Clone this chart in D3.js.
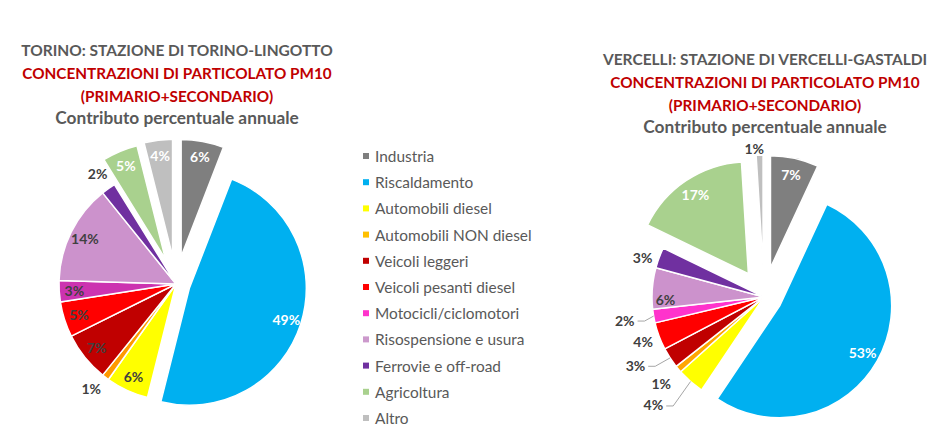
<!DOCTYPE html>
<html>
<head>
<meta charset="utf-8">
<script src="https://cdn.jsdelivr.net/npm/d3@7"></script>
<style>
  html, body { margin: 0; padding: 0; background: #ffffff; }
  svg { display: block; font-family: Lato, "Open Sans", sans-serif; }
</style>
</head>
<body>
<svg id="chart" width="950" height="438"></svg>
<script>
// ---------------- DATA ----------------
const categories = [
  "Industria", "Riscaldamento", "Automobili diesel", "Automobili NON diesel",
  "Veicoli leggeri", "Veicoli pesanti diesel", "Motocicli/ciclomotori",
  "Risospensione e usura", "Ferrovie e off-road", "Agricoltura", "Altro"
];
const torinoValues   = [6, 49, 6, 1, 7, 5, 3, 14, 2, 5, 4];
const vercelliValues = [7, 53, 4, 1, 3, 4, 2, 6, 3, 17, 1];

const torinoTitle   = ["TORINO: STAZIONE DI TORINO-LINGOTTO", "CONCENTRAZIONI DI PARTICOLATO PM10", "(PRIMARIO+SECONDARIO)", "Contributo percentuale annuale"];
const vercelliTitle = ["VERCELLI: STAZIONE DI VERCELLI-GASTALDI", "CONCENTRAZIONI DI PARTICOLATO PM10", "(PRIMARIO+SECONDARIO)", "Contributo percentuale annuale"];

const legendColors   = ["#7F7F7F", "#00B0F0", "#FFFF00", "#FFC000", "#C00000", "#FF0000", "#FF33CC", "#CC99CC", "#7030A0", "#A9D18E", "#BFBFBF"];
const torinoColors   = ["#7F7F7F", "#00B0F0", "#FFFF00", "#FF9900", "#C00000", "#FF0000", "#CC33B0", "#CC92CC", "#7030A0", "#A9D18E", "#BFBFBF"];
const vercelliColors = ["#7F7F7F", "#00B0F0", "#FFFF00", "#FFA500", "#C00000", "#FF0000", "#FF33CC", "#CC92CC", "#7030A0", "#A9D18E", "#BFBFBF"];

// ---------------- LAYOUT / STYLE ----------------
const titleSizes = [15.5, 15.3, 15.3, 17.3];
const titleLineH = 22.8;

const charts = [
  {
    values: torinoValues, colors: torinoColors, title: torinoTitle,
    cx: 176, cy: 284, r: 117, titleX: 177, titleY: 56,
    explode: {0: 28, 1: 14, 9: 27, 10: 28},
    white: [0, 1, 9, 10],
    labels: {3: {k: 1.15, da: 2}, 8: {k: 1.16, da: 0}},
    insideK: 0.87
  },
  {
    values: vercelliValues, colors: vercelliColors, title: vercelliTitle,
    cx: 764, cy: 297, r: 112, titleX: 765, titleY: 65,
    explode: {0: 30, 1: 18, 9: 28, 10: 30},
    white: [0, 1, 9],
    labels: {
      10: {k: 1.06, da: -2.5},
      8: {k: 1.14, da: -2.5},
      7: {k: 0.88, da: -5.7},
      6: {k: 1.26, da: 0.4, leader: true},
      5: {k: 1.15, da: 0.3},
      4: {k: 1.30, da: 5, leader: true},
      3: {k: 1.20, da: 0},
      2: {k: 1.38, da: 4.7, leader: true}
    },
    insideK: 0.85
  }
];

const svg = d3.select("#chart");
const rad = Math.PI / 180;
const pt = (a, d) => [Math.sin(a) * d, -Math.cos(a) * d];

charts.forEach(cfg => {
  const pie = d3.pie().sort(null).value(d => d)(cfg.values);
  const arc = d3.arc().innerRadius(0).outerRadius(cfg.r);
  const g = svg.append("g").attr("transform", `translate(${cfg.cx},${cfg.cy})`);

  // title
  const tg = svg.append("text")
    .attr("x", cfg.titleX).attr("y", cfg.titleY)
    .attr("text-anchor", "middle")
    .attr("font-weight", "bold");
  cfg.title.forEach((line, i) => {
    tg.append("tspan")
      .attr("x", cfg.titleX)
      .attr("dy", i === 0 ? 0 : titleLineH)
      .attr("font-size", titleSizes[i])
      .attr("fill", (i === 1 || i === 2) ? "#C00000" : "#595959")
      .text(line);
  });

  const slices = g.selectAll("g.slice").data(pie).enter().append("g")
    .attr("class", "slice")
    .attr("transform", d => {
      const off = cfg.explode[d.index] || 0;
      const mid = (d.startAngle + d.endAngle) / 2;
      const p = pt(mid, off);
      return `translate(${p[0]},${p[1]})`;
    });

  slices.append("path")
    .attr("d", arc)
    .attr("fill", d => cfg.colors[d.index])
    .attr("stroke", "#ffffff")
    .attr("stroke-width", 1.5)
    .attr("stroke-linejoin", "round");

  slices.each(function(d) {
    const s = d3.select(this);
    const mid = (d.startAngle + d.endAngle) / 2;
    const lab = cfg.labels[d.index];
    const k = lab ? lab.k : cfg.insideK;
    const a = mid + (lab ? lab.da : 0) * rad;
    const p = pt(a, cfg.r * k);
    const isWhite = cfg.white.includes(d.index);
    const t = s.append("text")
      .attr("x", p[0]).attr("y", p[1])
      .attr("text-anchor", "middle")
      .attr("dominant-baseline", "central")
      .attr("font-weight", "bold")
      .attr("font-size", 14)
      .attr("fill", isWhite ? "#ffffff" : "#404040")
      .text(d.data + "%");
    if (lab && lab.leader) {
      const w = t.node().getComputedTextLength();
      const start = pt(mid, cfg.r);
      const endX = p[0] + w / 2 + 3;
      const elbowX = endX + 7;
      s.insert("polyline", "text")
        .attr("points", `${endX},${p[1] + 1} ${elbowX},${p[1] + 1} ${start[0]},${start[1]}`)
        .attr("fill", "none")
        .attr("stroke", "#A6A6A6")
        .attr("stroke-width", 1);
    }
  });
});

// legend
const legend = svg.append("g").attr("transform", "translate(363,156)");
const rowH = 26.2;
const rows = legend.selectAll("g").data(categories).enter().append("g")
  .attr("transform", (d, i) => `translate(0,${i * rowH})`);
rows.append("rect")
  .attr("x", 0).attr("y", -3).attr("width", 6).attr("height", 6)
  .attr("fill", (d, i) => legendColors[i]);
rows.append("text")
  .attr("x", 12).attr("y", 0)
  .attr("dominant-baseline", "central")
  .attr("font-size", 15.4)
  .attr("fill", "#595959")
  .text(d => d);
</script>
</body>
</html>
